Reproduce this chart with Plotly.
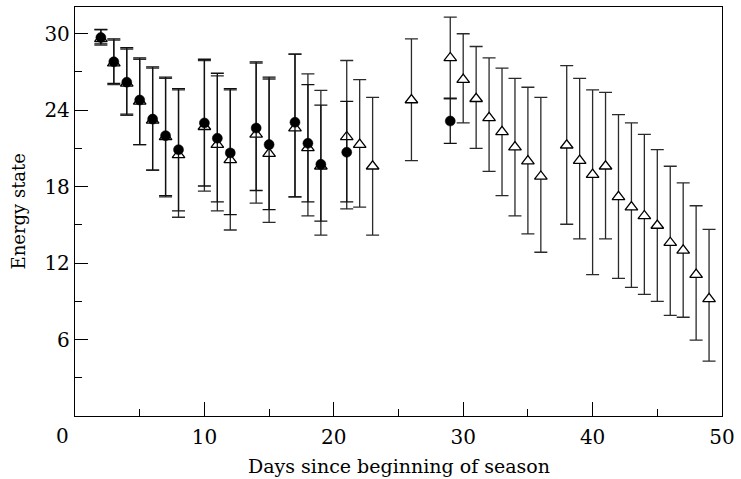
import plotly.graph_objects as go

# Filled circles series
circle_days = [2, 3, 4, 5, 6, 7, 8, 10, 11, 12, 14, 15, 17, 18, 19, 21, 29]
circle_mean = [29.7, 27.8, 26.2, 24.8, 23.3, 22.0, 20.9, 23.0, 21.8, 20.65, 22.6, 21.3, 23.05, 21.4, 19.75, 20.7, 23.15]
circle_high = [30.35, 29.6, 28.9, 28.1, 27.4, 26.6, 25.7, 28.0, 26.9, 25.7, 27.8, 26.6, 28.4, 26.0, 24.4, 24.7, 24.95]
circle_low = [29.2, 26.1, 23.7, 21.3, 19.3, 17.3, 16.1, 18.05, 16.8, 15.8, 17.7, 16.2, 17.2, 16.8, 15.3, 16.8, 21.4]

# Open triangles series
tri_days = [2, 3, 4, 5, 6, 7, 8, 10, 11, 12, 14, 15, 17, 18, 19, 21, 22, 23, 26,
            29, 30, 31, 32, 33, 34, 35, 36, 38, 39, 40, 41, 42, 43, 44, 45, 46, 47, 48, 49]
tri_mean = [29.6, 27.7, 26.1, 24.7, 23.2, 21.9, 20.5, 22.7, 21.3, 20.1, 22.1, 20.6, 22.6, 21.05, 19.6,
            21.9, 21.3, 19.6, 24.8, 28.1, 26.4, 24.9, 23.4, 22.3, 21.1, 20.0, 18.8,
            21.25, 20.05, 18.95, 19.6, 17.2, 16.4, 15.7, 14.95, 13.6, 13.0, 11.1, 9.2]
tri_high = [30.3, 29.5, 28.8, 28.0, 27.3, 26.5, 25.6, 27.9, 26.7, 25.6, 27.7, 26.45, 28.4, 26.85, 25.55,
            27.9, 26.4, 25.0, 29.6, 31.3, 30.0, 29.0, 28.1, 27.3, 26.5, 25.8, 25.0,
            27.5, 26.5, 25.6, 25.4, 23.65, 23.0, 22.1, 20.9, 19.6, 18.3, 16.5, 14.65]
tri_low = [29.1, 26.0, 23.6, 21.3, 19.3, 17.2, 15.6, 17.65, 16.1, 14.6, 16.7, 15.2, 17.2, 15.7, 14.2,
           16.25, 16.4, 14.2, 20.05, 24.9, 23.0, 21.0, 19.2, 17.3, 15.7, 14.3, 12.85,
           15.05, 13.9, 11.1, 13.9, 10.8, 10.1, 9.55, 9.0, 7.9, 7.75, 5.95, 4.3]

x_tick_vals = [10, 20, 30, 40, 50]
y_tick_vals = [6, 12, 18, 24, 30]

FONT = "DejaVu Serif"
INK = "#000000"

def err(mean, high, low):
    return ([h - m for m, h in zip(mean, high)], [m - l for m, l in zip(mean, low)])

tri_up, tri_dn = err(tri_mean, tri_high, tri_low)
cir_up, cir_dn = err(circle_mean, circle_high, circle_low)

fig = go.Figure()
fig.add_trace(go.Scatter(
    x=tri_days, y=tri_mean, mode="markers",
    marker=dict(symbol="triangle-up", size=11, color="white", line=dict(color=INK, width=1.3)),
    error_y=dict(type="data", symmetric=False, array=tri_up, arrayminus=tri_dn,
                 color="#2a2a2a", thickness=1.3, width=6.5),
    cliponaxis=False, showlegend=False,
))
fig.add_trace(go.Scatter(
    x=circle_days, y=circle_mean, mode="markers",
    marker=dict(symbol="circle", size=10, color="black", line=dict(color="black", width=0.5)),
    error_y=dict(type="data", symmetric=False, array=cir_up, arrayminus=cir_dn,
                 color="#111111", thickness=1.3, width=6.5),
    cliponaxis=False, showlegend=False,
))

fig.update_layout(
    width=741, height=479,
    margin=dict(l=75, r=14, t=6, b=63),
    paper_bgcolor="white", plot_bgcolor="white",
    font=dict(family=FONT, size=18, color=INK),
    xaxis=dict(
        range=[0, 50], tickvals=x_tick_vals, ticktext=[str(v) for v in x_tick_vals],
        ticks="inside", ticklen=14, tickwidth=1.2, tickcolor=INK,
        minor=dict(dtick=5, tick0=0, ticks="inside", ticklen=7, tickwidth=1.2, tickcolor=INK),
        showline=True, linecolor=INK, linewidth=1.3, mirror=True,
        showgrid=False, zeroline=False,
        ticklabelstandoff=3,
        tickfont=dict(family=FONT, size=20, color=INK),
    ),
    yaxis=dict(
        range=[0, 32.1], tickvals=y_tick_vals, ticktext=[str(v) for v in y_tick_vals],
        ticks="inside", ticklen=13, tickwidth=1.2, tickcolor=INK,
        minor=dict(dtick=3, tick0=0, ticks="inside", ticklen=7, tickwidth=1.2, tickcolor=INK),
        showline=True, linecolor=INK, linewidth=1.3, mirror=True,
        showgrid=False, zeroline=False,
        ticklabelstandoff=0,
        tickfont=dict(family=FONT, size=20, color=INK),
    ),
    annotations=[
        dict(text="0", xref="paper", yref="paper", x=0, y=0, xanchor="center", yanchor="middle",
             xshift=-13, yshift=-20, showarrow=False, font=dict(family=FONT, size=20, color=INK)),
        dict(text="Days since beginning of season", xref="paper", yref="paper", x=0.5, y=0,
             xanchor="center", yanchor="middle", yshift=-50, showarrow=False,
             font=dict(family=FONT, size=19, color=INK)),
        dict(text="Energy state", xref="paper", yref="paper", x=0, y=0.5, xanchor="center",
             yanchor="middle", xshift=-57, textangle=-90, showarrow=False,
             font=dict(family=FONT, size=18, color=INK)),
    ],
)

fig.write_html("out.html")
